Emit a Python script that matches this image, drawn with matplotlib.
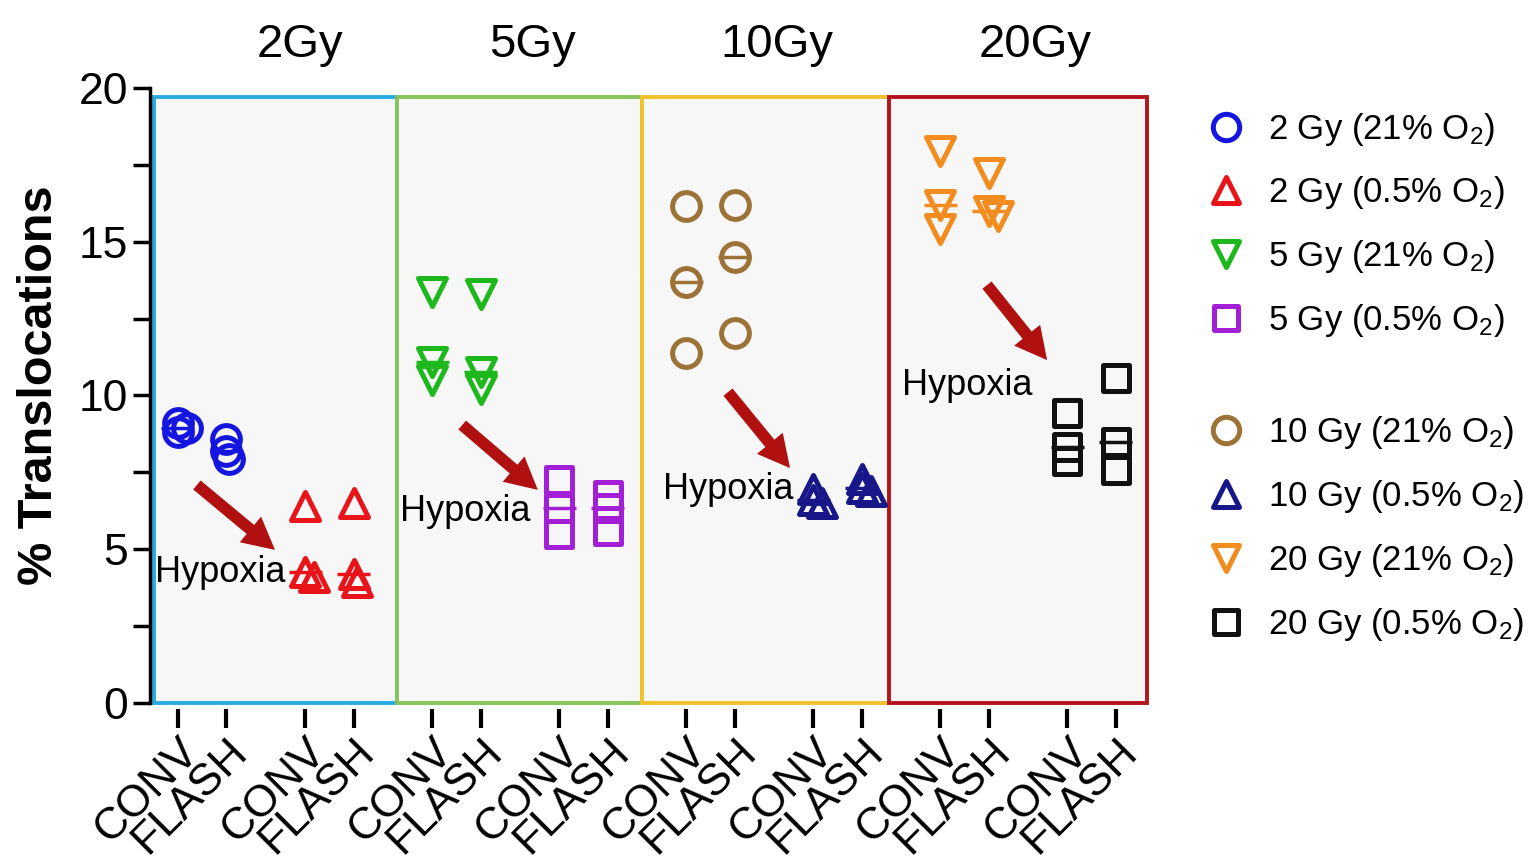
import numpy as np
import matplotlib
matplotlib.use("Agg")
import matplotlib.pyplot as plt
from matplotlib.lines import Line2D
from matplotlib.patches import Rectangle
from matplotlib.markers import MarkerStyle
from matplotlib.transforms import blended_transform_factory

plt.rcParams['font.family'] = ['Liberation Sans', 'DejaVu Sans']
plt.rcParams['mathtext.fontset'] = 'custom'
plt.rcParams['mathtext.rm'] = 'Liberation Sans'
plt.rcParams['mathtext.it'] = 'Liberation Sans:italic'
plt.rcParams['mathtext.bf'] = 'Liberation Sans:bold'

# ---------------- data ----------------
series_labels = ['2 Gy (21% O$_2$)', '2 Gy (0.5% O$_2$)', '5 Gy (21% O$_2$)', '5 Gy (0.5% O$_2$)',
                 '10 Gy (21% O$_2$)', '10 Gy (0.5% O$_2$)', '20 Gy (21% O$_2$)', '20 Gy (0.5% O$_2$)']
tick_labels = ['CONV', 'FLASH']
dose_titles = ['2Gy', '5Gy', '10Gy', '20Gy']

conv_2gy_normoxia = [9.1, 8.95, 8.8]
flash_2gy_normoxia = [8.6, 8.2, 7.95]
conv_2gy_hypoxia = [6.4, 4.25, 4.1]
flash_2gy_hypoxia = [6.5, 4.2, 3.95]
conv_5gy_normoxia = [13.35, 11.08, 10.5]
flash_5gy_normoxia = [13.3, 10.75, 10.2]
conv_5gy_hypoxia = [7.25, 6.35, 5.5]
flash_5gy_hypoxia = [6.75, 6.35, 5.6]
conv_10gy_normoxia = [16.15, 13.7, 11.38]
flash_10gy_normoxia = [16.2, 14.5, 12.03]
conv_10gy_hypoxia = [6.95, 6.6, 6.5]
flash_10gy_hypoxia = [7.3, 7.0, 6.9]
conv_20gy_normoxia = [17.95, 16.2, 15.4]
flash_20gy_normoxia = [17.25, 16.0, 15.85]
conv_20gy_hypoxia = [9.43, 8.33, 7.87]
flash_20gy_hypoxia = [10.57, 8.5, 7.58]

conv_series = [conv_2gy_normoxia, conv_2gy_hypoxia, conv_5gy_normoxia, conv_5gy_hypoxia,
               conv_10gy_normoxia, conv_10gy_hypoxia, conv_20gy_normoxia, conv_20gy_hypoxia]
flash_series = [flash_2gy_normoxia, flash_2gy_hypoxia, flash_5gy_normoxia, flash_5gy_hypoxia,
                flash_10gy_normoxia, flash_10gy_hypoxia, flash_20gy_normoxia, flash_20gy_hypoxia]

# ---------------- style ----------------
colors = ['#1515e0', '#e8141a', '#1cb81c', '#a21fd6', '#9c7236', '#17178a', '#f28c1e', '#111111']
markers = ['o', '^', 'v', 's', 'o', '^', 'v', 's']
msizes = [20, 19.5, 19.5, 18.5, 20, 19.5, 19.5, 18.5]
box_colors = ['#29abe2', '#86c35a', '#f2c12e', '#b41419']
box_edges = [-0.50, 4.52, 9.57, 14.66, 19.98]
group_step = 2.62
arrow_color = '#b01010'

fig = plt.figure(figsize=(15.36, 8.6), dpi=100)
fig.patch.set_facecolor('white')
ax = fig.add_axes([150 / 1536, (860 - 703) / 860, (1148 - 150) / 1536, (703 - 88) / 860])
ax.set_xlim(-0.577, 20.0)
ax.set_ylim(0, 20)
ax.set_facecolor('none')

# panel boxes
for i in range(4):
    r = Rectangle((box_edges[i], 0), box_edges[i + 1] - box_edges[i], 19.7,
                  facecolor='#f7f7f7', edgecolor=box_colors[i], linewidth=2.8,
                  zorder=0.5, clip_on=False)
    ax.add_patch(r)

def swarm(xc, vals):
    pts = ax.transData.transform([(xc, v) for v in vals])
    placed = []
    for px, py in pts:
        dx = 0
        for k in [0, 1, -1, 2, -2, 3, -3, 4, -4, 5, -5, 6, -6]:
            dx = 3 * k
            if all((px + dx - qx) ** 2 + (py - qy) ** 2 >= 64 for qx, qy in placed):
                break
        placed.append((px + dx, py))
    return ax.transData.inverted().transform(placed)

xpos = []
xlabels = []
for g in range(8):
    for j, vals in enumerate([conv_series[g], flash_series[g]]):
        xc = g * group_step + j
        xpos.append(xc)
        xlabels.append(tick_labels[j])
        med = float(np.median(vals))
        ax.plot([xc - 0.34, xc + 0.34], [med, med], color=colors[g], lw=2.5, zorder=3,
                solid_capstyle='butt')
        sp = swarm(xc, vals)
        ms = MarkerStyle(markers[g], fillstyle='none', joinstyle='round')
        ax.plot(sp[:, 0], sp[:, 1], linestyle='none', marker=ms, markersize=msizes[g],
                markeredgewidth=3.6, color=colors[g], zorder=4, clip_on=False)

# axes styling
for s in ['top', 'right']:
    ax.spines[s].set_visible(False)
ax.spines['left'].set_linewidth(2.5)
ax.spines['bottom'].set_position(('outward', 4))
ax.spines['bottom'].set_visible(False)
ax.set_yticks([0, 5, 10, 15, 20])
ax.set_yticks([2.5, 7.5, 12.5, 17.5], minor=True)
ax.tick_params(axis='y', which='both', length=12, width=2.5, labelsize=32, pad=4)
ax.set_xticks(xpos)
ax.set_xticklabels(xlabels, rotation=45, ha='right', va='top', rotation_mode='anchor', fontsize=32)
ax.tick_params(axis='x', length=14, width=3, pad=2)

fig.text(40 / 1536, 1 - 385 / 860, '% Translocations', rotation=90, ha='center', va='center',
         fontsize=35, fontweight='bold')

# dose titles
title_x = [2.52, 7.30, 12.35, 17.67]
trans = blended_transform_factory(ax.transData, fig.transFigure)
for t, x in zip(dose_titles, title_x):
    ax.text(x, 1 - 45 / 860, t, transform=trans, ha='center', va='center', fontsize=34)

# hypoxia arrows and labels
arrows = [((0.39, 7.09), (2.0, 4.98)), ((5.86, 9.04), (7.42, 6.93)),
          ((11.34, 10.11), (12.62, 7.64)), ((16.68, 13.59), (17.92, 11.15))]
hyp_pos = [(-0.47, 4.26), (4.58, 6.24), (10.0, 6.93), (14.93, 10.34)]
for (p0, p1), hp in zip(arrows, hyp_pos):
    ax.annotate('', xy=p1, xytext=p0,
                arrowprops=dict(arrowstyle='simple,head_length=1.15,head_width=1.2,tail_width=0.42',
                                mutation_scale=20, facecolor=arrow_color, edgecolor='none',
                                shrinkA=0, shrinkB=0), zorder=5)
    ax.text(hp[0], hp[1], 'Hypoxia', ha='left', va='center', fontsize=26, zorder=6)

# legend (manual)
leg_rows = [127, 190, 254, 318, 430, 494, 558, 622]
for i, lab in enumerate(series_labels):
    yf = 1 - leg_rows[i] / 860
    ms = MarkerStyle(markers[i], fillstyle='none', joinstyle='round')
    fig.add_artist(Line2D([1226 / 1536], [yf], transform=fig.transFigure, linestyle='none',
                          marker=ms, markersize=msizes[i] - 1, markeredgewidth=3.6,
                          color=colors[i]))
    fig.text(1268 / 1536, 1 - (leg_rows[i] + 12) / 860, lab, ha='left', va='baseline',
             fontsize=25)

fig.savefig('out.png', dpi=100, facecolor='white')
